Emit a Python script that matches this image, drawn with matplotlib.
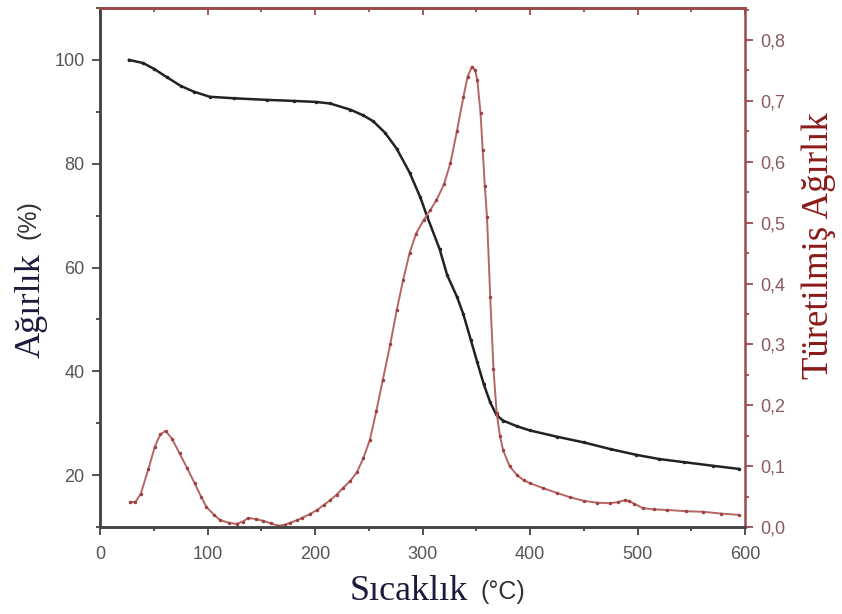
import matplotlib.pyplot as plt
from matplotlib.ticker import MultipleLocator, FuncFormatter

# TGA curve (weight %)
tga_temp = [27, 40, 50, 62, 75, 87, 102, 125, 155, 180, 201, 214, 233, 245, 254,
            265, 276, 288, 298, 304, 316, 323, 332, 338, 345, 351, 357, 363, 369,
            375, 388, 400, 425, 450, 475, 499, 520, 543, 570, 594]
tga_weight = [100, 99.4, 98.3, 96.7, 95.0, 93.9, 92.9, 92.6, 92.3, 92.1, 91.9, 91.6,
              90.4, 89.3, 88.2, 86.0, 82.9, 78.3, 73.5, 70.0, 63.5, 58.5, 54.4, 51.0,
              46.0, 41.7, 37.5, 34.0, 31.5, 30.5, 29.4, 28.6, 27.4, 26.3, 25.0, 23.9,
              23.1, 22.5, 21.8, 21.2]

# DTG curve (derivative weight)
dtg_temp = [28, 33, 38, 45, 51, 56, 61, 67, 74, 81, 88, 94, 99, 106, 112, 120, 127,
            133, 138, 145, 152, 159, 166, 172, 177, 183, 188, 195, 202, 208, 214,
            220, 226, 233, 239, 245, 251, 257, 263, 270, 276, 282, 288, 294, 301,
            307, 313, 320, 326, 332, 338, 342, 346, 349, 351, 354, 356, 358, 360,
            363, 366, 369, 372, 375, 381, 388, 394, 400, 412, 425, 437, 450, 462,
            474, 482, 488, 492, 497, 505, 515, 527, 545, 561, 578, 594]
dtg_value = [0.041, 0.041, 0.055, 0.095, 0.132, 0.152, 0.158, 0.145, 0.121, 0.097,
             0.072, 0.050, 0.033, 0.020, 0.011, 0.007, 0.005, 0.009, 0.015, 0.013,
             0.010, 0.006, 0.002, 0.004, 0.007, 0.011, 0.015, 0.021, 0.028, 0.036,
             0.044, 0.053, 0.064, 0.076, 0.090, 0.113, 0.143, 0.190, 0.241, 0.300,
             0.356, 0.406, 0.450, 0.482, 0.504, 0.520, 0.537, 0.563, 0.598, 0.650,
             0.706, 0.740, 0.756, 0.750, 0.734, 0.680, 0.619, 0.560, 0.509, 0.378,
             0.260, 0.187, 0.150, 0.126, 0.100, 0.085, 0.077, 0.072, 0.064, 0.056,
             0.049, 0.043, 0.040, 0.039, 0.041, 0.044, 0.043, 0.038, 0.031, 0.029,
             0.028, 0.026, 0.025, 0.022, 0.020]

red = '#b56565'
spine_red = '#9c4a4a'
grey = '#555555'

fig = plt.figure(figsize=(8.42, 6.14), dpi=100)
ax = fig.add_axes([100/842, 1 - 527/614, 645/842, 519/614])
ax2 = ax.twinx()

ax.plot(tga_temp, tga_weight, color='#222222', lw=1.8, marker='o', ms=1.5)
ax2.plot(dtg_temp, dtg_value, color=red, lw=1.4, marker='o', ms=1.5, mfc='#a04040', mec='#a04040')

ax.set_xlim(0, 600)
ax.set_ylim(10, 110)
ax2.set_ylim(0, 0.8526)

ax.xaxis.set_major_locator(MultipleLocator(100))
ax.xaxis.set_minor_locator(MultipleLocator(50))
ax.yaxis.set_major_locator(MultipleLocator(20))
ax.yaxis.set_minor_locator(MultipleLocator(10))
ax2.yaxis.set_major_locator(MultipleLocator(0.1))
ax2.yaxis.set_minor_locator(MultipleLocator(0.05))
ax2.yaxis.set_major_formatter(FuncFormatter(lambda v, p: ('%.1f' % v).replace('.', ',')))
ax.set_yticks([20, 40, 60, 80, 100])

for a in (ax, ax2):
    for s in a.spines.values():
        s.set_linewidth(1.8)
ax.spines['left'].set_color('#444444')
ax.spines['bottom'].set_color('#444444')
ax2.spines['left'].set_color('#444444')
ax2.spines['bottom'].set_color('#444444')
ax.spines['top'].set_color(spine_red)
ax2.spines['top'].set_color(spine_red)
ax2.spines['right'].set_color(spine_red)
ax.spines['right'].set_visible(False)

ax.tick_params(axis='x', which='both', direction='out', bottom=True, top=False,
               labelsize=13, labelcolor=grey, color='#444444', width=1.3, pad=8)
ax.tick_params(axis='x', which='major', length=6)
ax.tick_params(axis='x', which='minor', length=3)
ax.tick_params(axis='y', which='both', direction='out', labelsize=13,
               labelcolor=grey, color='#444444', width=1.3, pad=5)
ax.tick_params(axis='y', which='major', length=6)
ax.tick_params(axis='y', which='minor', length=3)
ax2.tick_params(axis='y', which='both', direction='out', labelsize=13,
                labelcolor='#8a5a5a', color=spine_red, width=1.3, pad=5)
ax2.tick_params(axis='y', which='major', length=6)
ax2.tick_params(axis='y', which='minor', length=3)

# top ticks pointing inward, red
top = ax.secondary_xaxis('top')
top.xaxis.set_major_locator(MultipleLocator(100))
top.xaxis.set_minor_locator(MultipleLocator(50))
top.tick_params(which='both', direction='in', labeltop=False, color=spine_red, width=1.3)
top.tick_params(which='major', length=5)
top.tick_params(which='minor', length=3)
top.spines['top'].set_color(spine_red)
top.spines['top'].set_linewidth(1.8)

for lbl in ax.get_xticklabels() + ax.get_yticklabels() + ax2.get_yticklabels():
    lbl.set_family(['Liberation Sans', 'DejaVu Sans'])

# axis titles
fig.text(409/842, 1 - 591/614, 'Sıcaklık', family='Liberation Serif', fontsize=26,
         color='#1a1a3a', ha='center', va='center')
fig.text(503/842, 1 - 592/614, '(°C)', family='Liberation Sans', fontsize=18,
         color='#333333', ha='center', va='center')
fig.text(31/842, 1 - 306/614, 'Ağırlık', family='Liberation Serif', fontsize=26,
         color='#1a1a3a', ha='center', va='center', rotation=90)
fig.text(28/842, 1 - 220/614, '(%)', family='Liberation Sans', fontsize=18,
         color='#333333', ha='center', va='center', rotation=90)
fig.text(819/842, 1 - 246/614, 'Türetilmiş Ağırlık', family='Liberation Serif',
         fontsize=26.5, color='#8b1a1a', ha='center', va='center', rotation=90)

fig.savefig('out.png', dpi=100)
